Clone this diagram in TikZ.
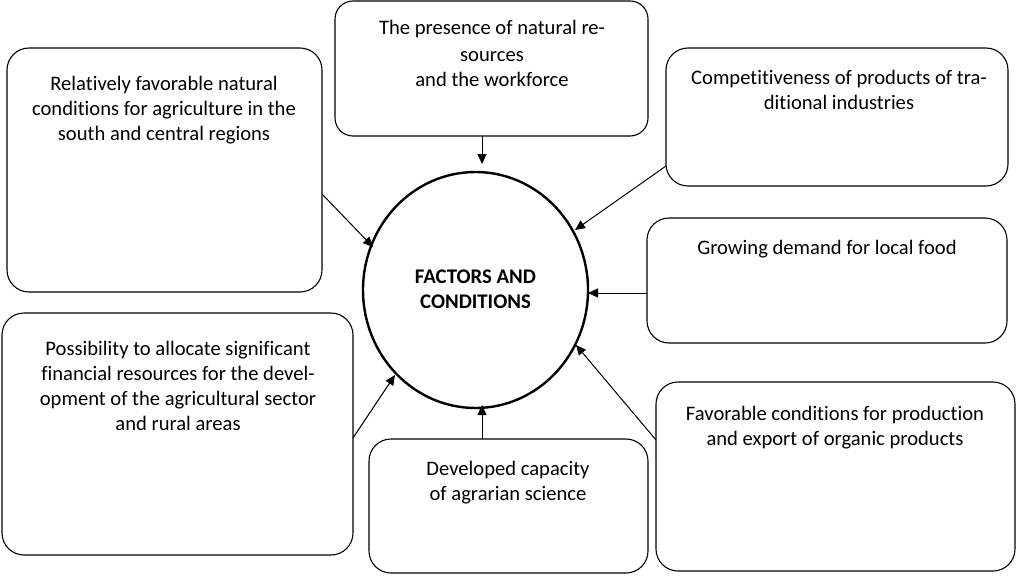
\documentclass[tikz,border=0pt]{standalone}
\usepackage{fontspec}
\setmainfont{Carlito}[Ligatures={NoCommon}]
\usetikzlibrary{arrows.meta,shapes.geometric}
\begin{document}
\begin{tikzpicture}[x=1pt,y=-1pt,
  box/.style={draw,line width=1.1pt,rounded corners=22pt,inner sep=0pt,outer sep=0pt,anchor=north west},
  txt/.style={align=center,inner sep=0pt,anchor=north,font=\fontsize{20.6}{25.3}\selectfont},
  arr/.style={draw,line width=1pt,-{Triangle[length=10pt,width=9pt]}},
  hub/.style={draw,ellipse,line width=2.4pt,minimum width=225pt,minimum height=236pt,inner sep=0pt,outer sep=0pt}]
\useasboundingbox (0,0) rectangle (1016,575);
% boxes
\node[box,minimum width=315pt,minimum height=244pt] (b1) at (7,48) {};
\node[box,minimum width=313pt,minimum height=135pt,rounded corners=18pt] (b2) at (335,1) {};
\node[box,minimum width=342pt,minimum height=138pt] (b3) at (666,48) {};
\node[box,minimum width=360pt,minimum height=125pt] (b4) at (647,218) {};
\node[box,minimum width=359pt,minimum height=189pt] (b5) at (656,382) {};
\node[box,minimum width=279pt,minimum height=134pt] (b6) at (369,439) {};
\node[box,minimum width=351pt,minimum height=242pt] (b7) at (2,313) {};
% hub
\node[hub] (c) at (475.5,290) {};
\node[align=center,inner sep=0pt,font=\fontsize{20.8}{25.3}\selectfont\bfseries] (ct) at (475.5,289) {FACTORS AND\\CONDITIONS};
% texts
\node[txt] (t1) at (164,75.5) {Relatively favorable natural\\conditions for agriculture in the\\south and central regions};
\node[txt] (t2) at (492,19.5) {The presence of natural re-\\[2pt]sources\\and the workforce};
\node[txt] (t3) at (839,69.5) {Competitiveness of products of tra-\\ditional industries};
\node[txt] (t4) at (827,239.5) {Growing demand for local food};
\node[txt] (t5) at (835,405.5) {Favorable conditions for production\\and export of organic products};
\node[txt] (t6) at (508,460.5) {Developed capacity\\of agrarian science};
\node[txt] (t7) at (178,340.5) {Possibility to allocate significant\\financial resources for the devel-\\opment of the agricultural sector\\and rural areas};
% connectors
\coordinate (a2) at (482,136);
\coordinate (e2) at (482,164);
\draw[arr] (a2) -- (e2);
\coordinate (a1) at (322,194);
\coordinate (e1) at (373,247);
\draw[arr] (a1) -- (e1);
\coordinate (a3) at (666,166);
\coordinate (e3) at (575,230);
\draw[arr] (a3) -- (e3);
\coordinate (a4) at (647,293);
\coordinate (e4) at (588,293);
\draw[arr] (a4) -- (e4);
\coordinate (a5) at (656,440);
\coordinate (e5) at (576,345);
\draw[arr] (a5) -- (e5);
\coordinate (a6) at (482,439);
\coordinate (e6) at (482,405);
\draw[arr] (a6) -- (e6);
\coordinate (a7) at (353,438);
\coordinate (e7) at (395,375);
\draw[arr] (a7) -- (e7);
\end{tikzpicture}
\end{document}
